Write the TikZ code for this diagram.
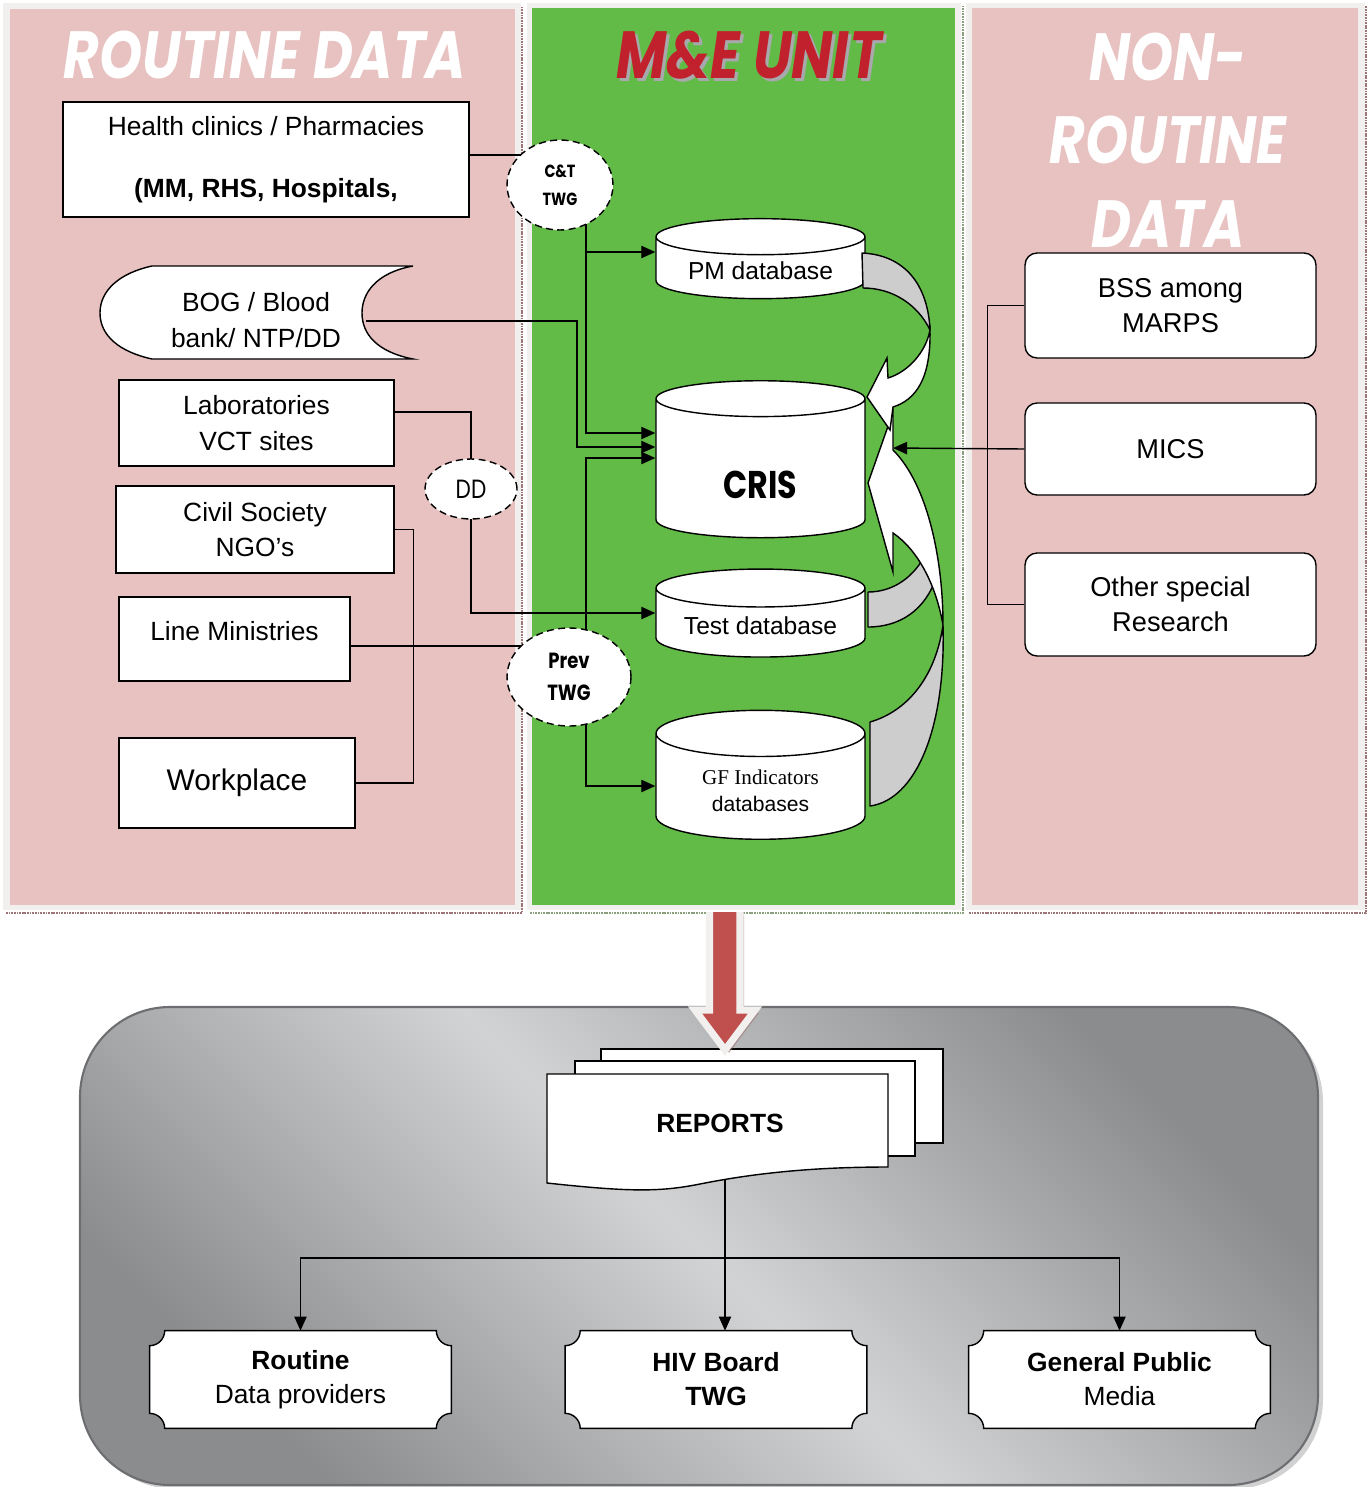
\documentclass[tikz,border=0pt]{standalone}
\usepackage{fontspec}
\setmainfont{Liberation Sans}
\newfontfamily\gothic[FakeStretch=0.82]{Poppins}
\newfontfamily\romanfont{Liberation Serif}
\usetikzlibrary{shapes.geometric, arrows.meta}
\pgfdeclarelayer{bg}
\pgfdeclarelayer{lines}
\pgfsetlayers{bg,lines,main}
\definecolor{panelpink}{HTML}{E8C2C1}
\definecolor{panelgreen}{HTML}{62BB46}
\definecolor{framegrey}{HTML}{F2F0EE}
\definecolor{titlered}{HTML}{C1212D}
\definecolor{titleshadow}{HTML}{A7A9AC}
\definecolor{arrowred}{HTML}{C0504D}
\definecolor{ribbongrey}{HTML}{CDCDCD}
\definecolor{paneldark}{HTML}{8B8C8E}
\definecolor{panellight}{HTML}{D2D3D5}
\definecolor{panelborder}{HTML}{6D6E71}
\definecolor{shadowred}{HTML}{9C7676}
\definecolor{shadowgreen}{HTML}{8AA07C}
\tikzset{
	paneltitle/.style = {
		font=\gothic\bfseries\itshape\fontsize{38}{47.6}\selectfont,
		text=white,
		align=center
	},
	srcbox/.style = {
		draw, thick, fill=white,
		align=center,
		font=\fontsize{15}{20.4}\selectfont
	},
	twg/.style = {
		ellipse, draw, thick,
		dash pattern=on 4pt off 2.5pt,
		fill=white, align=center, inner sep=1pt
	},
	db/.style = {
		cylinder, shape border rotate=90,
		draw, thick, fill=white, align=center,
		minimum width=4.18cm
	},
	nrbox/.style = {
		draw, thick, fill=white,
		rounded corners=0.24cm,
		minimum width=5.82cm, align=center,
		font=\fontsize{15.5}{20}\selectfont
	},
	outbox/.style = {
		align=center,
		minimum width=6.02cm, minimum height=1.94cm,
		font=\fontsize{15}{19.3}\selectfont
	},
	notch/.style = {draw, thick, fill=white},
	link/.style = {thick},
	flow/.style = {thick, -{Triangle[length=8pt, width=7pt]}},
	ribgrey/.style = {draw, thick, fill=ribbongrey, line join=round},
	ribwhite/.style = {draw, thick, fill=white, line join=miter},
	doc/.style = {draw, thick, fill=white}
}
% frame with hollow corners, drawn under the node
\newcommand{\notchframe}[1]{%
	\begin{pgfonlayer}{lines}
	\draw[notch] ([xshift=0.3cm]#1.north west) -- ([xshift=-0.3cm]#1.north east)
		arc[start angle=180, end angle=270, radius=0.3cm] -- ([yshift=0.3cm]#1.south east)
		arc[start angle=90, end angle=180, radius=0.3cm] -- ([xshift=0.3cm]#1.south west)
		arc[start angle=0, end angle=90, radius=0.3cm] -- ([yshift=-0.3cm]#1.north west)
		arc[start angle=-90, end angle=0, radius=0.3cm] -- cycle;
	\end{pgfonlayer}}

\begin{document}
\begin{tikzpicture}[x=0.02cm, y=-0.02cm]
\useasboundingbox (0,0) rectangle (1368,1487);

% panels
\begin{pgfonlayer}{bg}
\fill[framegrey] (3,3) rectangle (521,910);
\fill[panelpink] (10,9) rectangle (515,905);
\fill[framegrey] (527,3) rectangle (961,910);
\fill[panelgreen] (532,8) rectangle (955,905);
\fill[framegrey] (966,3) rectangle (1365,910);
\fill[panelpink] (972,8) rectangle (1358,905);
\draw[shadowred, line width=1.5pt, dash pattern=on 1pt off 0.5pt] (6,913) -- (522,913) -- (522,6);
\draw[shadowgreen, line width=1.5pt, dash pattern=on 1pt off 0.5pt] (530,913) -- (963,913) -- (963,6);
\draw[shadowred, line width=1.5pt, dash pattern=on 1pt off 0.5pt] (969,913) -- (1366,913) -- (1366,6);
\fill[black!18, rounded corners=1.8cm] (85,1012) rectangle (1323,1489);
\shadedraw[draw=panelborder, line width=1.2pt, top color=paneldark, bottom color=paneldark,
	middle color=panellight, shading angle=-45, rounded corners=1.8cm] (80,1007) rectangle (1318,1485);
\end{pgfonlayer}

% titles
\node[paneltitle] (rtitle) at (265,55) {ROUTINE DATA};
\node[paneltitle, text=titleshadow] (meshadow) at (752,58) {M\&E UNIT};
\node[paneltitle, text=titlered] (metitle) at (749,55) {M\&E UNIT};
\node[paneltitle] (nrtitle) at (1168,140) {NON-\\ROUTINE\\DATA};

% routine sources
\node[srcbox, minimum width=8.12cm, minimum height=2.3cm] (health) at (266,159.5)
	{Health clinics / Pharmacies\\[14.6pt]\textbf{(MM, RHS, Hospitals,}};
\filldraw[fill=white, thick] (152,266) -- (413,266)
	.. controls (375,273) and (362,294) .. (362,313)
	.. controls (362,334) and (377,352) .. (413,359) -- (152,359)
	.. controls (120,352) and (100,336) .. (100,313)
	.. controls (100,290) and (120,273) .. (152,266) -- cycle;
\node[align=center, font=\fontsize{15}{20.4}\selectfont] (bog) at (256,320) {BOG / Blood\\bank/ NTP/DD};
\coordinate (bogin) at (366,321);
\node[srcbox, minimum width=5.5cm, minimum height=1.72cm] (labs) at (256.5,423) {Laboratories\\VCT sites};
\node[srcbox, minimum width=5.56cm, minimum height=1.74cm] (civil) at (255,529.5) {Civil Society\\NGO’s};
\node[srcbox, minimum width=4.62cm, minimum height=1.68cm] (line) at (234.5,639) {};
\node[font=\fontsize{15}{20.4}\selectfont] (lineT) at (234.5,631) {Line Ministries};
\node[srcbox, minimum width=4.72cm, minimum height=1.8cm, font=\fontsize{17}{20}\selectfont] (work) at (237,783) {Workplace};

% working groups
\node[twg, minimum width=2.12cm, minimum height=1.8cm, font=\gothic\bfseries\fontsize{10}{16}\selectfont] (ct) at (560,185) {C\&T\\TWG};
\node[twg, minimum width=1.84cm, minimum height=1.2cm, font=\gothic\fontsize{15}{18}\selectfont] (dd) at (471,489) {DD};
\node[twg, minimum width=2.48cm, minimum height=1.96cm, font=\gothic\bfseries\fontsize{12.5}{18}\selectfont] (prev) at (569,677) {Prev\\TWG};

% databases
\node[db, minimum height=1.6cm, shape aspect=0.23, font=\fontsize{14}{17}\selectfont] (pm) at (760.5,271) {PM database};
\node[db, minimum height=3.14cm, shape aspect=0.42, font=\gothic\bfseries\fontsize{22}{26}\selectfont] (cris) at (760.5,471.5)
	{\raisebox{-0.26cm}[\height][\depth]{CRIS}};
\node[db, minimum height=1.76cm, shape aspect=0.23, font=\fontsize{14}{17}\selectfont] (test) at (760.5,626) {Test database};
\node[db, minimum height=2.58cm, shape aspect=0.36, font=\fontsize{12}{15.3}\selectfont] (gf) at (760.5,790.5) {{\romanfont GF Indicators}\\databases};
\coordinate (crisA) at ([yshift=0.77cm]cris.west);
\coordinate (crisB) at ([yshift=0.49cm]cris.west);
\coordinate (crisC) at ([yshift=0.27cm]cris.west);
\coordinate (crisR) at (893,448);

% feedback ribbons into CRIS
\filldraw[ribgrey] (868,592) .. controls (895,592) and (915,575) .. (925,555) -- (936,578)
	.. controls (925,610) and (900,627) .. (868,627) -- cycle;
\filldraw[ribwhite] (893,412) -- (893,450) .. controls (928,485) and (943,560) .. (943,625)
	.. controls (936,585) and (918,550) .. (893,533) -- (893,572) -- (868,483) -- cycle;
\filldraw[ribgrey] (943,625) .. controls (946,730) and (915,800) .. (870,806) -- (870,722)
	.. controls (905,712) and (935,680) .. (943,625) -- cycle;
\filldraw[ribgrey] (862,253) .. controls (905,255) and (928,285) .. (930,330)
	.. controls (918,305) and (893,288) .. (863,288) -- cycle;
\filldraw[ribwhite] (930,330) .. controls (931,380) and (915,400) .. (893,407) -- (890,430)
	-- (867,397) -- (887,358) -- (888,378) .. controls (908,372) and (926,352) .. (930,330) -- cycle;

% non-routine sources
\node[nrbox, minimum height=2.1cm] (bss) at (1170.5,305.5) {BSS among\\MARPS};
\node[nrbox, minimum height=1.84cm] (mics) at (1170.5,449) {MICS};
\node[nrbox, minimum height=2.06cm] (other) at (1170.5,604.5) {Other special\\Research};

% connectors
\begin{pgfonlayer}{lines}
\draw[link] ([yshift=0.09cm]health.east) -- ([yshift=0.09cm]health.east -| ct.center);
\draw[flow] ([xshift=0.52cm]ct.center) |- ([yshift=0.38cm]pm.west);
\draw[flow] ([xshift=0.52cm]ct.center) |- (crisA);
\draw[flow] (bogin) -- ++(211,0) |- (crisB);
\draw[link] ([yshift=0.22cm]labs.east) -| (dd.center);
\draw[flow] (dd.center) |- ([yshift=0.26cm]test.west);
\draw[link] (civil.east) -- ++(19,0) |- (work.east);
\draw[link] ([yshift=-0.14cm]line.east) -- ([yshift=-0.14cm]line.east -| prev.center);
\draw[flow] ([xshift=0.34cm]prev.center) |- (crisC);
\draw[flow] ([xshift=0.34cm]prev.center) |- ([yshift=0.09cm]gf.west);
\draw[flow] (mics.west) -- (crisR);
\draw[link] (bss.west) -- ++(-37,0) |- (other.west);
\end{pgfonlayer}

% reports
\filldraw[doc] (601,1049) rectangle (943,1143);
\filldraw[doc] (575,1061) rectangle (915,1156);
\filldraw[doc] (547,1074) -- (888,1074) -- (888,1167)
	.. controls (820,1167) and (760,1172) .. (700,1184)
	.. controls (660,1192) and (630,1192) .. (547,1183) -- cycle;
\node[font=\bfseries\fontsize{15}{18}\selectfont] (reports) at (720,1123) {REPORTS};

% big arrow down to the reports
\fill[shadowred, opacity=0.55] (714,915) -- (714,1013) -- (699,1013) -- (729,1053) -- (759,1013) -- (744,1013) -- (744,915) -- cycle;
\filldraw[fill=arrowred, draw=framegrey, line width=4pt, line join=miter]
	(709.5,912) -- (709.5,1010) -- (695,1010) -- (725,1050) -- (755,1010) -- (740,1010) -- (740,912);

% users of the reports
\node[outbox] (routine) at (300.5,1379.5) {\textbf{Routine}\\Data providers};
\node[outbox] (hiv) at (716,1379.5) {\textbf{HIV Board}\\\textbf{TWG}};
\node[outbox] (public) at (1119.5,1379.5) {\textbf{General Public}\\Media};
\notchframe{routine}
\notchframe{hiv}
\notchframe{public}
\coordinate (split) at (725,1258);
\begin{pgfonlayer}{lines}
\draw[flow, semithick] (split |- reports.center) -- (split |- hiv.north);
\draw[flow, semithick] (split) -| (routine.north);
\draw[flow, semithick] (split) -| (public.north);
\end{pgfonlayer}
\end{tikzpicture}
\end{document}
